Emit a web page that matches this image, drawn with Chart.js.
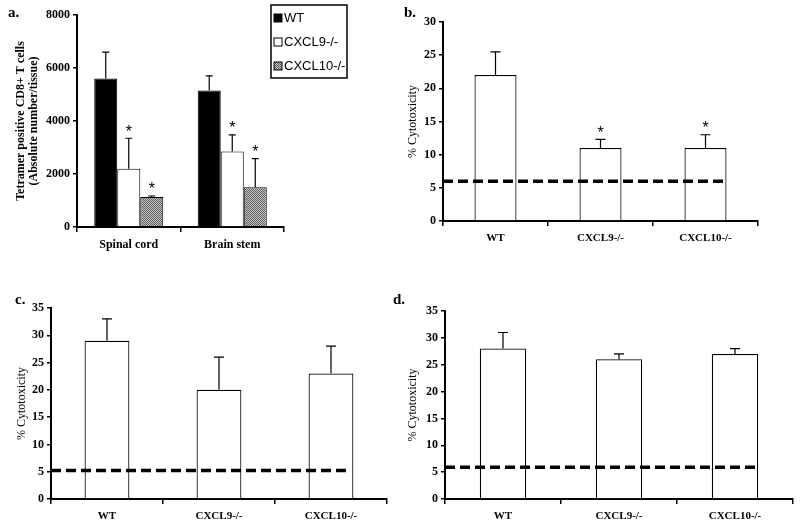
<!DOCTYPE html>
<html>
<head>
<meta charset="utf-8">
<script src="https://cdn.jsdelivr.net/npm/chart.js@4"></script>
<style>
  body { margin: 0; background: #fff; width: 800px; height: 523px; position: relative; overflow: hidden; }
  canvas { position: absolute; }
  .tag { position: absolute; font: bold 15px "Liberation Serif", serif; color: #000; }
</style>
</head>
<body>
<canvas id="chartA" width="400" height="260" style="left:0;top:0"></canvas>
<canvas id="chartB" width="400" height="260" style="left:400px;top:0"></canvas>
<canvas id="chartC" width="400" height="263" style="left:0;top:260px"></canvas>
<canvas id="chartD" width="400" height="263" style="left:400px;top:260px"></canvas>
<div class="tag" style="left:8px;top:4px">a.</div>
<div class="tag" style="left:404px;top:4px">b.</div>
<div class="tag" style="left:15px;top:291px">c.</div>
<div class="tag" style="left:393px;top:291px">d.</div>
<script>
// panel a: tetramer positive CD8+ T cells
const tissues = ["Spinal cord", "Brain stem"];
const wtA = [5600, 5150];
const wtAErr = [1000, 550];
const cxcl9A = [2200, 2850];
const cxcl9AErr = [1150, 630];
const cxcl10A = [1130, 1500];
const cxcl10AErr = [40, 1080];

// panels b, c, d: % cytotoxicity
const genotypes = ["WT", "CXCL9-/-", "CXCL10-/-"];
const cytoB = [22, 11, 11];
const cytoBErr = [3.5, 1.3, 2];
const baseB = 6;
const cytoC = [29, 20, 23];
const cytoCErr = [4, 6, 5];
const baseC = 5.2;
const cytoD = [28, 26, 27];
const cytoDErr = [3, 1, 1];
const baseD = 5.9;

const serif = "Liberation Serif";

// grey checker fill for CXCL10-/-
function checker() {
  const c = document.createElement("canvas");
  c.width = 2; c.height = 2;
  const g = c.getContext("2d");
  g.fillStyle = "#c8c8c8"; g.fillRect(0, 0, 2, 2);
  g.fillStyle = "#5a5a5a"; g.fillRect(0, 0, 1, 1); g.fillRect(1, 1, 1, 1);
  return g.createPattern(c, "repeat");
}

const errBars = {
  id: "errBars",
  afterDatasetsDraw(chart, args, opts) {
    const ctx = chart.ctx;
    const y = chart.scales.y;
    ctx.save();
    ctx.strokeStyle = "#000";
    ctx.lineWidth = 1.2;
    chart.data.datasets.forEach((ds, i) => {
      const meta = chart.getDatasetMeta(i);
      meta.data.forEach((bar, j) => {
        const top = y.getPixelForValue(ds.data[j] + opts.errs[i][j]);
        ctx.beginPath();
        ctx.moveTo(bar.x, bar.y);
        ctx.lineTo(bar.x, top);
        ctx.moveTo(bar.x - opts.cap, top);
        ctx.lineTo(bar.x + opts.cap, top);
        ctx.stroke();
        if (opts.stars && opts.stars[i][j]) {
          ctx.fillStyle = "#000";
          ctx.font = "16px 'Liberation Sans'";
          ctx.textAlign = "center";
          ctx.textBaseline = "bottom";
          ctx.fillText("*", bar.x, top + 2);
        }
      });
    });
    ctx.restore();
  }
};

const baseline = {
  id: "baseline",
  afterDatasetsDraw(chart, args, opts) {
    if (opts.value == null) return;
    const ctx = chart.ctx;
    const yy = chart.scales.y.getPixelForValue(opts.value);
    const bars = chart.getDatasetMeta(0).data;
    const last = bars[bars.length - 1];
    ctx.save();
    ctx.strokeStyle = "#000";
    ctx.lineWidth = opts.width;
    ctx.setLineDash(opts.dash);
    ctx.beginPath();
    ctx.moveTo(chart.chartArea.left, yy);
    ctx.lineTo(last.x + last.width / 2 - 3, yy);
    ctx.stroke();
    ctx.restore();
  }
};

const boxLegend = {
  id: "boxLegend",
  afterDraw(chart, args, opts) {
    if (!opts.box) return;
    const ctx = chart.ctx;
    const b = opts.box;
    ctx.save();
    ctx.fillStyle = "#fff";
    ctx.fillRect(b.x, b.y, b.w, b.h);
    ctx.strokeStyle = "#000";
    ctx.lineWidth = 1.5;
    ctx.strokeRect(b.x, b.y, b.w, b.h);
    ctx.font = "13px 'Liberation Sans'";
    ctx.textBaseline = "middle";
    chart.data.datasets.forEach((ds, i) => {
      const cy = b.y + 13 + i * 24;
      ctx.fillStyle = ds.backgroundColor;
      ctx.fillRect(b.x + 3, cy - 4, 8, 8);
      ctx.strokeStyle = "#000";
      ctx.lineWidth = 1;
      ctx.strokeRect(b.x + 3, cy - 4, 8, 8);
      ctx.fillStyle = "#000";
      ctx.fillText(ds.label, b.x + 13, cy);
    });
    ctx.restore();
  }
};

function axes(max, step, title, yWidth, xHeight, fontSize, yFontSize) {
  const tickFont = { family: serif, size: fontSize, weight: "bold" };
  return {
    x: {
      grid: { display: true, drawOnChartArea: false, color: "#000", lineWidth: 1.5, tickLength: 5, offset: true },
      border: { color: "#000", width: 2 },
      ticks: { color: "#000", font: tickFont, padding: 6 },
      afterFit(s) { s.height = xHeight; }
    },
    y: {
      min: 0, max: max,
      grid: { display: true, drawOnChartArea: false, color: "#000", lineWidth: 1.5, tickLength: 4 },
      border: { color: "#000", width: 2 },
      ticks: {
        stepSize: step, color: "#000", padding: 3, format: { useGrouping: false },
        font: { family: serif, size: yFontSize, weight: "bold" }
      },
      title: title,
      afterFit(s) { s.width = yWidth; }
    }
  };
}

function cytoChart(id, values, errs, stars, base, pad, yWidth, xHeight, max, titlePad) {
  return new Chart(document.getElementById(id), {
    type: "bar",
    data: {
      labels: genotypes,
      datasets: [{
        label: "% Cytotoxicity",
        data: values,
        backgroundColor: "#fff",
        borderColor: "#000",
        borderWidth: 1.2,
        categoryPercentage: 0.4,
        barPercentage: 1
      }]
    },
    options: {
      responsive: false,
      animation: false,
      layout: { padding: pad },
      scales: axes(max, 5, {
        display: true, text: "% Cytotoxicity", color: "#000",
        font: { family: serif, size: 12 }, padding: { top: titlePad, bottom: 2 }
      }, yWidth, xHeight, 11, 12),
      plugins: {
        legend: { display: false },
        tooltip: { enabled: false },
        errBars: { errs: [errs], cap: 5, stars: [stars] },
        baseline: { value: base, width: 3.5, dash: [10, 5] }
      }
    },
    plugins: [errBars, baseline]
  });
}

new Chart(document.getElementById("chartA"), {
  type: "bar",
  data: {
    labels: tissues,
    datasets: [
      { label: "WT", data: wtA, backgroundColor: "#000", borderColor: "#000", borderWidth: 1 },
      { label: "CXCL9-/-", data: cxcl9A, backgroundColor: "#fff", borderColor: "#000", borderWidth: 1 },
      { label: "CXCL10-/-", data: cxcl10A, backgroundColor: checker(), borderColor: "#000", borderWidth: 1 }
    ]
  },
  options: {
    responsive: false,
    animation: false,
    datasets: { bar: { categoryPercentage: 0.667, barPercentage: 1 } },
    layout: { padding: { left: 0, right: 116, top: 15, bottom: 0 } },
    scales: axes(8000, 2000, {
      display: true, text: ["Tetramer positive CD8+ T cells", "(Absolute number/tissue)"], color: "#000",
      font: { family: serif, size: 12, weight: "bold", lineHeight: 1.05 }, padding: { top: 15, bottom: 4 }
    }, 77, 33, 12, 12),
    plugins: {
      legend: { display: false },
      tooltip: { enabled: false },
      errBars: { errs: [wtAErr, cxcl9AErr, cxcl10AErr], cap: 3.5, stars: [[false, false], [true, true], [true, true]] },
      boxLegend: { box: { x: 271, y: 5, w: 76, h: 73 } }
    }
  },
  plugins: [errBars, boxLegend]
});

cytoChart("chartB", cytoB, cytoBErr, [false, true, true], baseB,
  { left: 0, right: 42, top: 22, bottom: 0 }, 43, 39, 30, 6);
cytoChart("chartC", cytoC, cytoCErr, [false, false, false], baseC,
  { left: 0, right: 13, top: 48, bottom: 0 }, 51, 24, 35, 15);
cytoChart("chartD", cytoD, cytoDErr, [false, false, false], baseD,
  { left: 0, right: 7, top: 51, bottom: 0 }, 45, 24, 35, 6);
</script>
</body>
</html>
